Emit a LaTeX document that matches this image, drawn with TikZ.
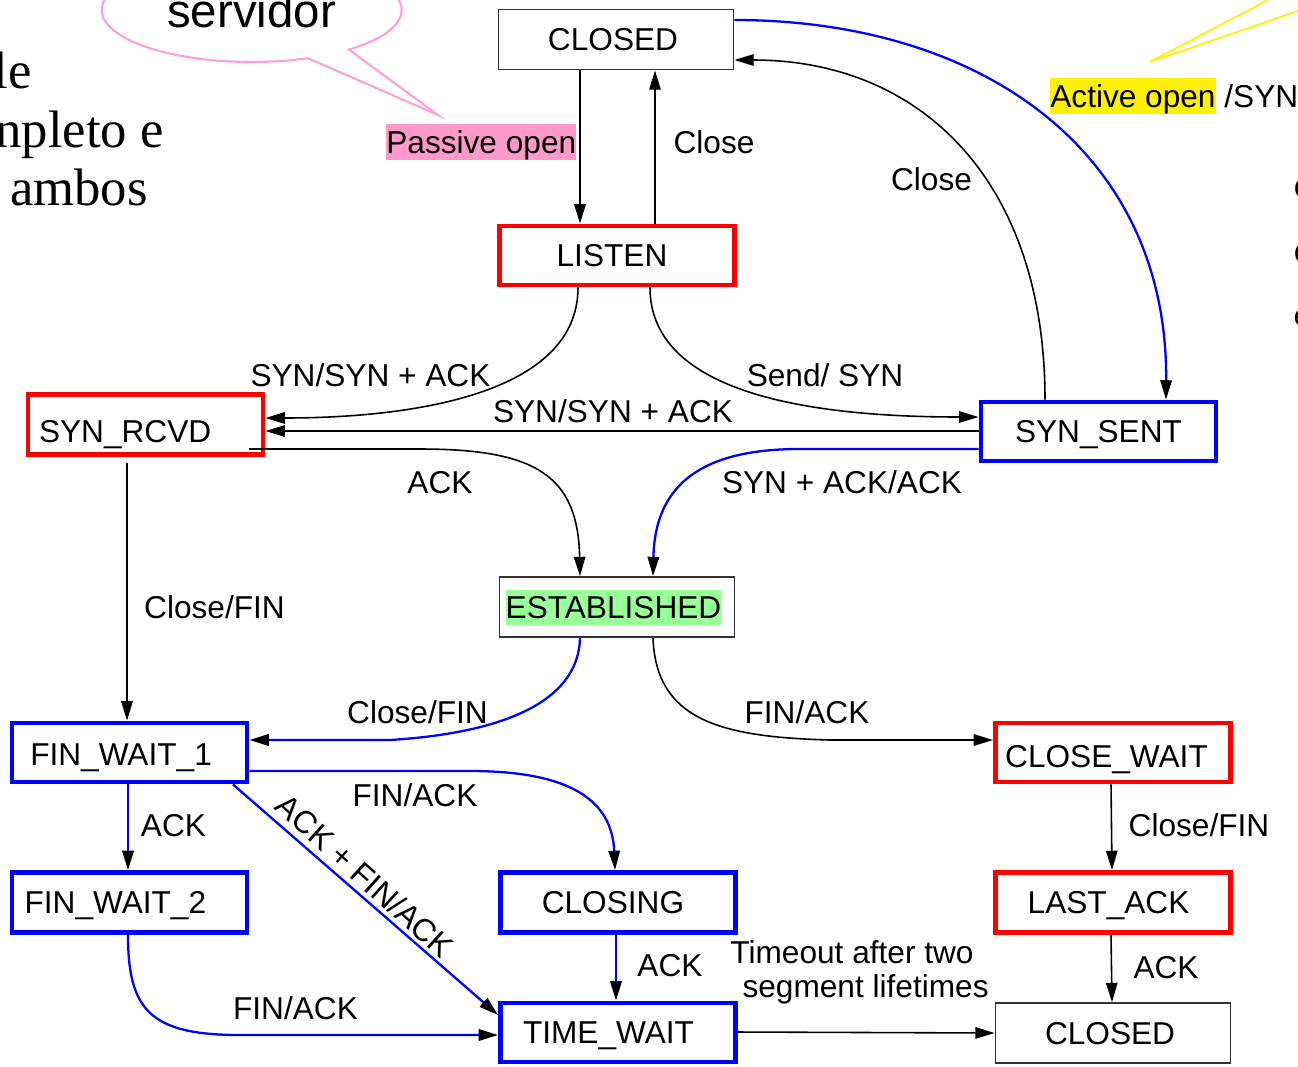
\documentclass[tikz,border=0pt]{standalone}
\usepackage{fontspec}
\setmainfont{Liberation Sans}
\newfontfamily\seriffam{Liberation Serif}
\usetikzlibrary{arrows.meta,calc}
\definecolor{pinkhl}{RGB}{255,153,204}
\definecolor{greenhl}{RGB}{153,255,153}
\definecolor{bubblepink}{RGB}{255,160,210}
\newcommand\hl[2]{{\setlength{\fboxsep}{0pt}\colorbox{#1}{\rule[-0.212em]{0pt}{1.117em}#2}}}
\begin{document}
\begin{tikzpicture}[x=0.02cm,y=-0.02cm,
  every node/.style={font=\fontsize{18}{21.6}\selectfont, inner sep=0pt},
  box/.style={draw, rectangle, minimum width=4.7cm, minimum height=1.18cm, text height=12.9pt, text depth=0pt, line width=2.8pt},
  redbox/.style={box, draw=red},
  bluebox/.style={box, draw=blue},
  plainbox/.style={box, draw=black!80, line width=1pt, minimum height=1.2cm},
  lbl/.style={anchor=base},
  tipend/.style={-{Triangle[length=11pt,width=6.5pt,color=black,fill=black]}},
  bconn/.style={tipend, draw=black, line width=0.9pt},
  uconn/.style={tipend, draw=blue, line width=1.3pt},
]
\useasboundingbox (0,0) rectangle (1298,1066);
\clip (0,0) rectangle (1298,1066);
\fill[white] (0,0) rectangle (1298,1066);

% speech bubbles and fragments
\draw[bubblepink, line width=1.2pt, fill=white] (307.9,58.2) arc[start angle=68, end angle=409.6, x radius=150, y radius=52] -- (438,115) -- cycle;
\node[anchor=base, font=\fontsize{27}{32}\selectfont] (servidor) at (251.5,27) {servidor};
\draw[yellow, line width=1pt] (1268,0) -- (1150,62) -- (1298,11);
\node[anchor=base east, font=\seriffam\fontsize{30}{34}\selectfont] (frag1) at (32,88) {le};
\node[anchor=base east, font=\seriffam\fontsize{30}{34}\selectfont] (frag2) at (164,147) {npleto e};
\node[anchor=base east, font=\seriffam\fontsize{30}{34}\selectfont] (frag3) at (148,205) {ambos};
\node[anchor=base west, font=\fontsize{16}{19}\selectfont] (frag4) at (1293.5,198) {C};
\node[anchor=base west, font=\fontsize{16}{19}\selectfont] (frag5) at (1293.5,263) {C};
\node[anchor=base west, font=\fontsize{16}{19}\selectfont] (frag6) at (1293.5,325) {e};

% states
\node[plainbox] (closedT) at (616,39.5) {\hspace*{-3.4pt}CLOSED};
\node[redbox] (listen) at (617,255.5) {\hspace*{-5.7pt}LISTEN};
\node[redbox, minimum height=1.2cm, text height=20.9pt] (synrcvd) at (145.5,424.5) {\hspace*{-23.2pt}SYN\_RCVD};
\node[bluebox] (synsent) at (1098.5,431.5) {SYN\_SENT};
\node[plainbox] (estab) at (617,607) {\hspace*{-4pt}\hl{greenhl}{ESTABLISHED}};
\node[bluebox, text height=15.1pt] (finwait1) at (129.5,752.5) {\hspace*{-9.6pt}FIN\_WAIT\_1};
\node[redbox, text height=16.9pt] (closewait) at (1113,752.5) {\hspace*{-7.4pt}CLOSE\_WAIT};
\node[bluebox, minimum height=1.2cm] (finwait2) at (129.5,902.5) {\hspace*{-16.1pt}FIN\_WAIT\_2};
\node[bluebox, minimum height=1.2cm] (closing) at (618,902.5) {\hspace*{-5.7pt}CLOSING};
\node[redbox, minimum height=1.2cm] (lastack) at (1113,902.5) {\hspace*{-5.1pt}LAST\_ACK};
\node[bluebox] (timewait) at (618,1032.5) {\hspace*{-10.8pt}TIME\_WAIT};
\node[plainbox] (closedB) at (1113,1033) {\hspace*{-3.4pt}CLOSED};

% connectors
\draw[bconn] (580,0 |- closedT.south) -- (580,0 |- listen.north);
\draw[bconn] (655,0 |- listen.north) -- (655,0 |- closedT.south);
\draw[uconn] (closedT.east |- 0,20) .. controls (980,20) and (1168,150) .. (1166,0 |- synsent.north);
\draw[bconn] (1045,0 |- synsent.north) .. controls (1045,180) and (920,60) .. (closedT.east |- 0,60);
\draw[bconn] (578,0 |- listen.south) .. controls (578,395) and (410,418) .. (synrcvd.east |- 0,418);
\draw[bconn] (650,0 |- listen.south) .. controls (650,395) and (815,417) .. (synsent.west |- 0,417);
\draw[bconn] (synsent.west |- 0,431) -- (synrcvd.east |- 0,431);
\coordinate (rcvdout) at (249,449);
\draw[bconn] (rcvdout) -- (420,449) .. controls (535,449) and (578,475) .. (580,0 |- estab.north);
\draw[uconn] (synsent.west |- 0,449) -- (800,449) .. controls (705,449) and (655,482) .. (653,0 |- estab.north);
\draw[bconn] ($(127,0 |- synrcvd.south)+(0,6)$) -- (127,0 |- finwait1.north);
\draw[uconn] (580,0 |- estab.south) .. controls (578,715) and (470,735) .. (390,740) -- (finwait1.east |- 0,740);
\draw[bconn] (653,0 |- estab.south) .. controls (656,720) and (720,737) .. (830,740) -- (closewait.west |- 0,740);
\draw[uconn] (finwait1.east |- 0,771) -- (470,771) .. controls (570,771) and (612,800) .. (615,0 |- closing.north);
\draw[uconn] (128,0 |- finwait1.south) -- (128,0 |- finwait2.north);
\draw[uconn] (233,0 |- finwait1.south) -- (timewait.west |- 0,1015);
\draw[uconn] (128,0 |- finwait2.south) .. controls (128,1010) and (150,1035) .. (240,1035) -- (timewait.west |- 0,1035);
\draw[uconn] (616,0 |- closing.south) -- (616,0 |- timewait.north);
\draw[bconn] (timewait.east |- 0,1032) -- (closedB.west |- 0,1033);
\draw[bconn] (1111,0 |- closewait.south) -- (1112,0 |- lastack.north);
\draw[bconn] (1111,0 |- lastack.south) -- (1112,0 |- closedB.north);

% labels
\node[anchor=base west] (lpassive) at (386,153) {\hl{pinkhl}{Passive open}};
\node[lbl] (lclose1) at (714,153) {Close};
\node[lbl] (lclose2) at (931.5,190) {Close};
\node[anchor=base west] (lactive) at (1050,107) {\hl{yellow}{Active open} /SYN};
\node[lbl] (lsynsyn1) at (370.5,386) {SYN/SYN + ACK};
\node[lbl] (lsendsyn) at (825,386) {Send/ SYN};
\node[lbl] (lsynsyn2) at (613,422) {SYN/SYN + ACK};
\node[lbl] (lack1) at (440,493) {ACK};
\node[lbl] (lsynackack) at (842,493) {SYN + ACK/ACK};
\node[lbl] (lclosefin1) at (214.5,618) {Close/FIN};
\node[lbl] (lclosefin2) at (417.5,723) {Close/FIN};
\node[lbl] (lfinack1) at (807,723) {FIN/ACK};
\node[lbl] (lfinack2) at (415,806) {FIN/ACK};
\node[lbl] (lack2) at (173.5,836) {ACK};
\node[rotate=-42] (lackfin) at (365,876) {ACK + FIN/ACK};
\node[lbl] (lclosefin3) at (1199,836) {Close/FIN};
\node[lbl] (lfinack3) at (295.5,1019) {FIN/ACK};
\node[lbl] (lack3) at (670,976) {ACK};
\node[lbl] (ltimeout1) at (852,963) {Timeout after two};
\node[lbl] (ltimeout2) at (865.6,997) {segment lifetimes};
\node[lbl] (lack4) at (1166,978) {ACK};
\end{tikzpicture}
\end{document}
